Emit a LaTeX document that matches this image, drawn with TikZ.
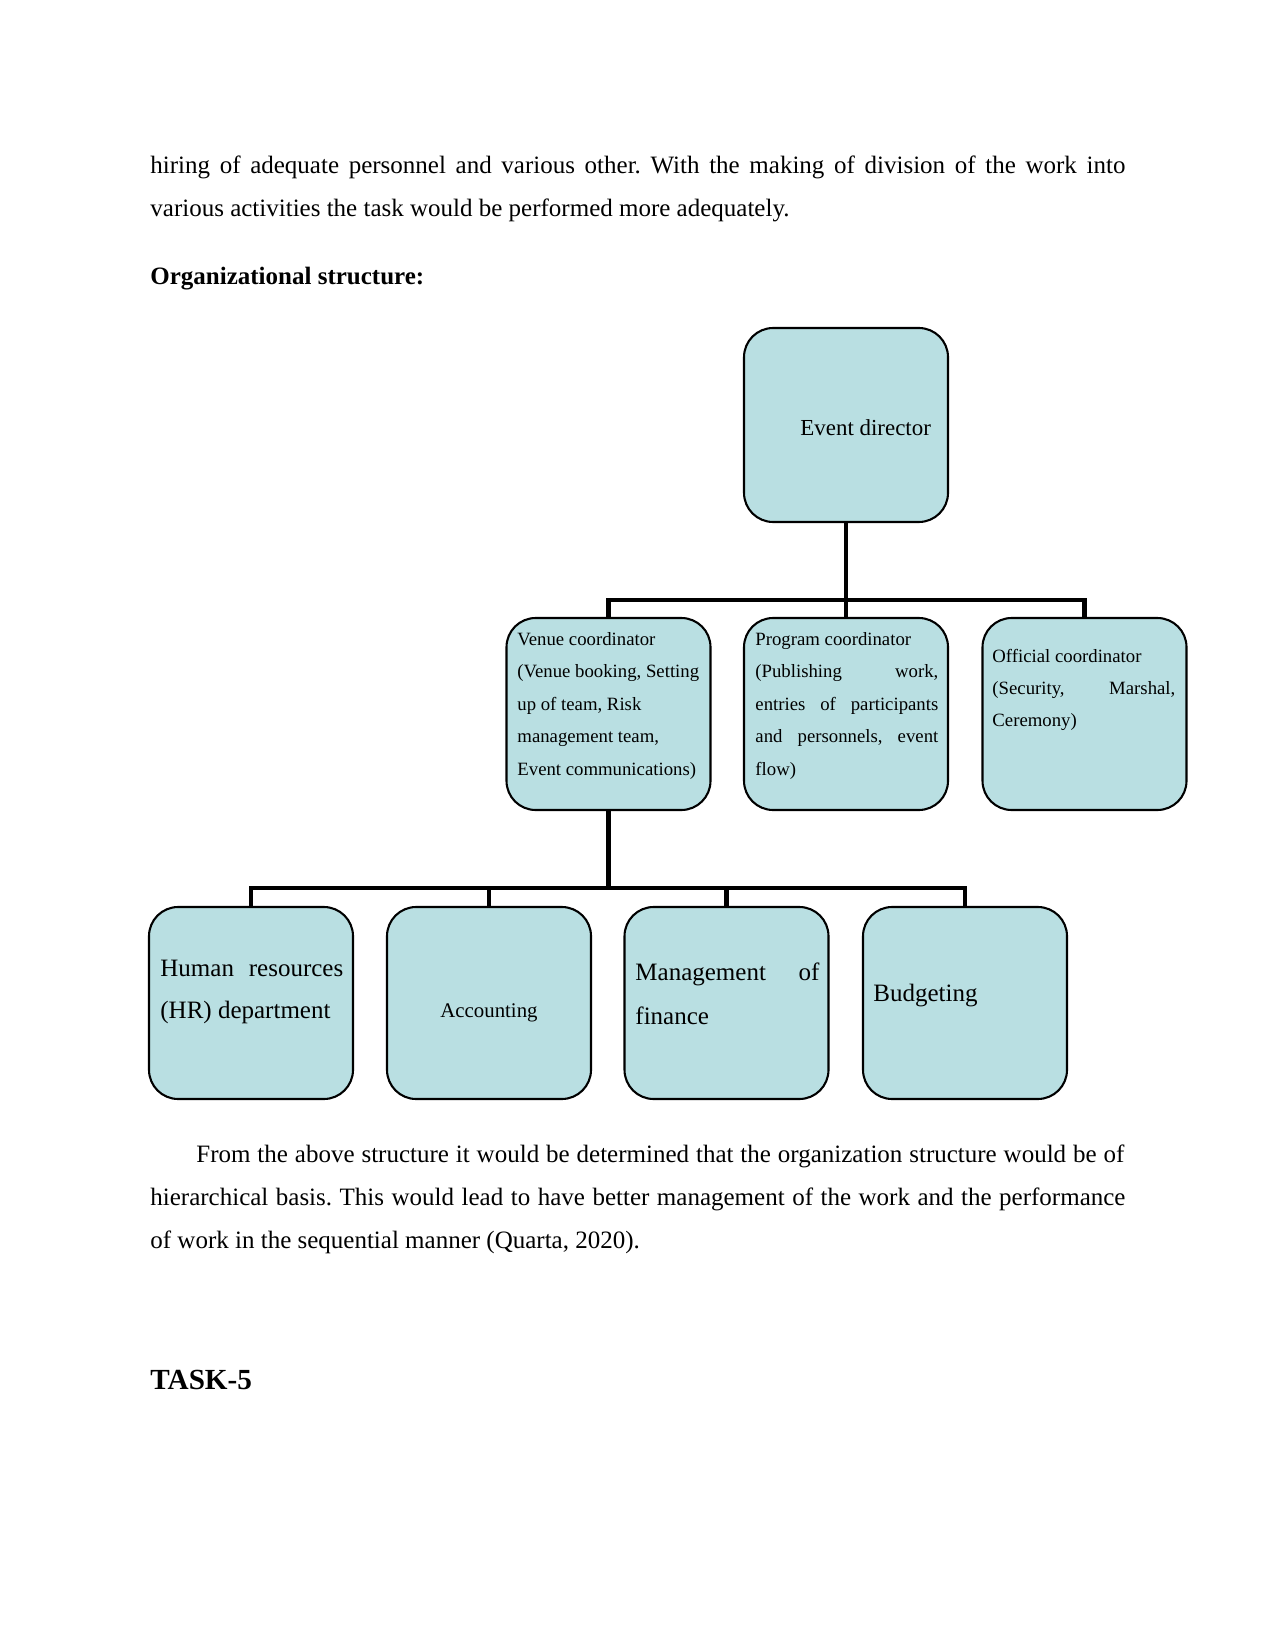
\documentclass[tikz,border=0pt]{standalone}
\usepackage{fontspec}
\setmainfont{Liberation Serif}
\frenchspacing
\definecolor{boxfill}{RGB}{185,223,226}
\tikzset{
  orgbox/.style={draw=black, line width=1pt, fill=boxfill, rounded corners=14pt,
    minimum width=97.92pt, minimum height=92.16pt, inner sep=0pt},
  conn/.style={line width=2pt, line join=miter},
  ln/.style={anchor=base west, inner sep=0pt},
  body/.style={ln, font=\fontsize{12}{14}\selectfont},
  small/.style={ln, font=\fontsize{9}{11}\selectfont},
  big/.style={ln, font=\fontsize{12}{14}\selectfont}
}
\begin{document}
\begin{tikzpicture}[x=0.48pt,y=-0.48pt]
\useasboundingbox (0,0) rectangle (1275,1650);
\fill[white] (0,0) rectangle (1275,1650);

% body text top
\node[body] (p1) at (150,174) {\makebox[468pt][s]{hiring of adequate personnel and various other. With the making of division of the work into}};
\node[body] (p2) at (150,217) {various activities the task would be performed more adequately.};
\node[body, font=\fontsize{12}{14}\selectfont\bfseries] (title) at (150,285) {Organizational structure:};

% boxes
\node[orgbox, minimum height=93.12pt] (ed) at (846,425) {};
\node[orgbox] (venue) at (608.5,714) {};
\node[orgbox] (prog) at (846,714) {};
\node[orgbox] (off) at (1084.5,714) {};
\node[orgbox] (hr) at (251,1003) {};
\node[orgbox] (acc) at (489,1003) {};
\node[orgbox] (mgmt) at (726.5,1003) {};
\node[orgbox] (bud) at (965,1003) {};

% connectors
\coordinate (b1) at (846,600);
\coordinate (b2) at (608.5,888);
\draw[conn] (ed.south) -- (b1);
\draw[conn] (venue.north) |- (off.north |- b1) -- (off.north);
\draw[conn] (b1) -- (prog.north);
\draw[conn] (venue.south) -- (b2);
\draw[conn] (hr.north) |- (bud.north |- b2) -- (bud.north);
\draw[conn] (acc.north) -- (acc.north |- b2);
\draw[conn] (mgmt.north) -- (mgmt.north |- b2);

% box texts
\node[ln, font=\fontsize{11}{13}\selectfont] (edt) at (800,435) {Event director};

\node[small] (v1) at (517,645) {Venue coordinator};
\node[small] (v2) at (517,677) {(Venue booking, Setting};
\node[small] (v3) at (517,710) {up of team, Risk};
\node[small] (v4) at (517,742) {management team,};
\node[small] (v5) at (517,775) {Event communications)};

\node[small] (g1) at (755,645) {Program coordinator};
\node[small] (g2) at (755,677) {\makebox[87.8pt][s]{(Publishing work,}};
\node[small] (g3) at (755,710) {\makebox[87.8pt][s]{entries of participants}};
\node[small] (g4) at (755,742) {\makebox[87.8pt][s]{and personnels, event}};
\node[small] (g5) at (755,775) {flow)};

\node[small] (o1) at (992,662) {Official coordinator};
\node[small] (o2) at (992,694) {\makebox[87.8pt][s]{(Security, Marshal,}};
\node[small] (o3) at (992,726) {Ceremony)};

\node[big] (h1) at (160,976) {\makebox[87.8pt][s]{Human resources}};
\node[big] (h2) at (160,1018) {(HR) department};

\node[anchor=base, inner sep=0pt, font=\fontsize{10}{12}\selectfont] (a1) at (489,1017) {Accounting};

\node[big] (m1) at (635,980) {\makebox[88.3pt][s]{Management of}};
\node[big] (m2) at (635,1024) {finance};

\node[big] (u1) at (873,1001) {Budgeting};

% body text bottom
\node[body] (q1) at (196,1162) {\makebox[445.4pt][s]{From the above structure it would be determined that the organization structure would be of}};
\node[body] (q2) at (150,1205) {\makebox[468pt][s]{hierarchical basis. This would lead to have better management of the work and the performance}};
\node[body] (q3) at (150,1248) {of work in the sequential manner (Quarta, 2020).};

\node[ln, font=\fontsize{14}{16}\selectfont\bfseries] (task) at (150,1389) {TASK-5};
\end{tikzpicture}
\end{document}
